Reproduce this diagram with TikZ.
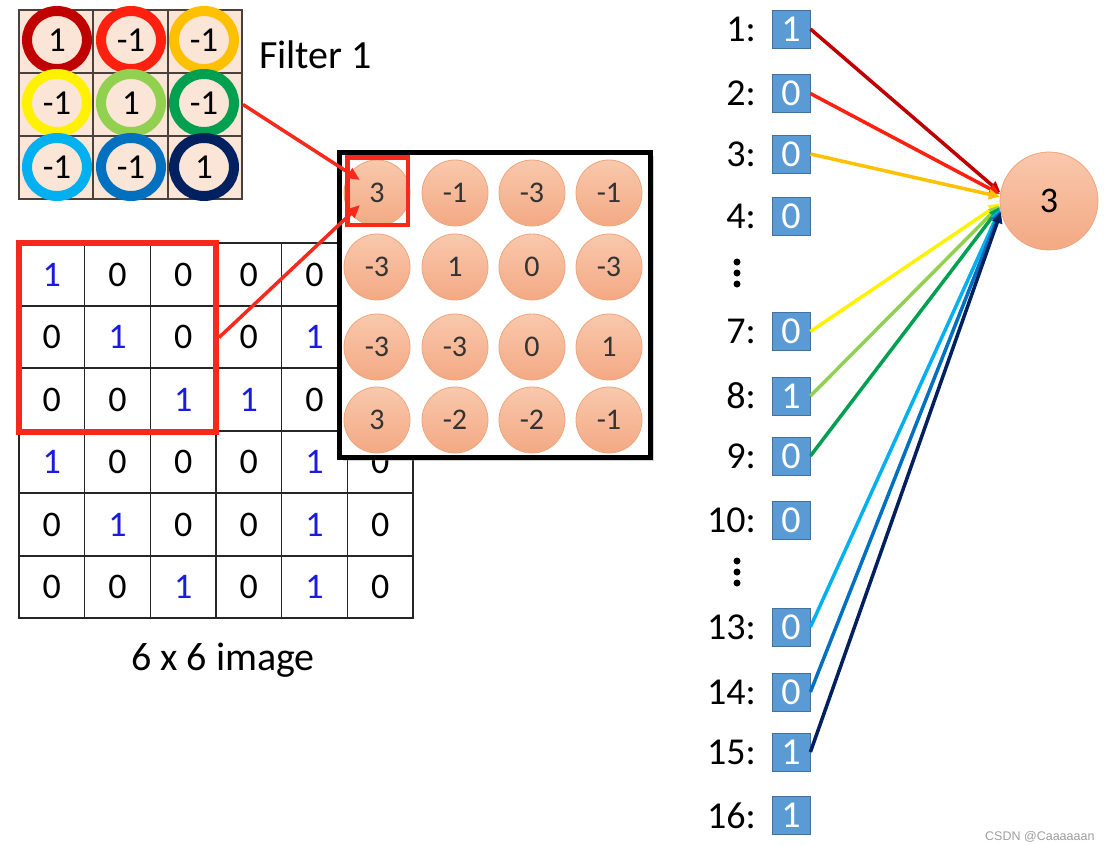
\documentclass[tikz,border=0pt]{standalone}
\usepackage{fontspec}
\setmainfont{Carlito}
\newfontfamily\markfont{Liberation Sans}
\usetikzlibrary{shapes.geometric, arrows.meta, shadows, positioning}

\definecolor{peach}{HTML}{FBE5D6}
\definecolor{fline}{HTML}{4A403C}
\definecolor{ringA}{HTML}{C00000}
\definecolor{ringB}{HTML}{FF2010}
\definecolor{ringC}{HTML}{FFC000}
\definecolor{ringD}{HTML}{FFF200}
\definecolor{ringE}{HTML}{92D050}
\definecolor{ringF}{HTML}{00A050}
\definecolor{ringG}{HTML}{00B0F0}
\definecolor{ringH}{HTML}{0070C0}
\definecolor{ringI}{HTML}{002060}
\definecolor{oneblue}{HTML}{1A1AE0}
\definecolor{winred}{HTML}{F52A1C}
\definecolor{dottop}{HTML}{F9C8AC}
\definecolor{dotbot}{HTML}{F3A984}
\definecolor{dotedge}{HTML}{EFA57C}
\definecolor{boxblue}{HTML}{5B9BD5}
\definecolor{boxedge}{HTML}{41719C}

\begin{document}
\begin{tikzpicture}[x=1pt, y=-1pt,
    ring/.style={ellipse, draw=#1, line width=10pt, minimum width=60pt, minimum height=58pt, font=\fontsize{35}{35}\selectfont},
    pix/.style={draw=black!85, line width=1.6pt, minimum width=65.7pt, minimum height=62.5pt, font=\fontsize{36}{36}\selectfont},
    hot/.style={pix, text=oneblue},
    fdot/.style={circle, minimum size=66pt, draw=dotedge, line width=0.8pt, top color=dottop, bottom color=dotbot, text=black!80, font=\fontsize{30}{30}\selectfont},
    inbox/.style={fill=boxblue, draw=boxedge, line width=0.8pt, minimum size=38pt, text=white, font=\fontsize{38}{38}\selectfont},
    idx/.style={anchor=east, font=\fontsize{38}{38}\selectfont},
    feed/.style={draw=#1, line width=3.5pt, -{Triangle[length=11pt,width=10pt]}}]
    \tikzstyle{every node}+=[inner sep=0pt]
    \useasboundingbox (0,0) rectangle (1116,844);

    % filter 1
    \node [draw=fline, fill=peach, line width=2pt, minimum width=223pt, minimum height=189pt] (filt) at (130.5,104.5) {};
    \draw [fline, line width=2pt] (93,10) -- (93,199);
    \draw [fline, line width=2pt] (168,10) -- (168,199);
    \draw [fline, line width=2pt] (19,73) -- (242,73);
    \draw [fline, line width=2pt] (19,136) -- (242,136);
    \node [ring=ringA] (f11) at (57,40) {1};
    \node [ring=ringB] (f12) at (131,40) {-1};
    \node [ring=ringC] (f13) at (204,40) {-1};
    \node [ring=ringD] (f21) at (57,103) {-1};
    \node [ring=ringE] (f22) at (131,103) {1};
    \node [ring=ringF] (f23) at (204,103) {-1};
    \node [ring=ringG] (f31) at (57,167) {-1};
    \node [ring=ringH] (f32) at (131,167) {-1};
    \node [ring=ringI] (f33) at (204,167) {1};
    \node [anchor=base west, font=\fontsize{40}{40}\selectfont] (ftitle) at (259,68) {Filter 1};

    % 6 x 6 image
    \node [hot] (i11) at (51.8,274.5) {1};
    \node [pix] (i12) at (117.5,274.5) {0};
    \node [pix] (i13) at (183.2,274.5) {0};
    \node [pix] (i14) at (248.8,274.5) {0};
    \node [pix] (i15) at (314.5,274.5) {0};
    \node [hot] (i16) at (380.2,274.5) {1};
    \node [pix] (i21) at (51.8,337) {0};
    \node [hot] (i22) at (117.5,337) {1};
    \node [pix] (i23) at (183.2,337) {0};
    \node [pix] (i24) at (248.8,337) {0};
    \node [hot] (i25) at (314.5,337) {1};
    \node [pix] (i26) at (380.2,337) {0};
    \node [pix] (i31) at (51.8,399.5) {0};
    \node [pix] (i32) at (117.5,399.5) {0};
    \node [hot] (i33) at (183.2,399.5) {1};
    \node [hot] (i34) at (248.8,399.5) {1};
    \node [pix] (i35) at (314.5,399.5) {0};
    \node [pix] (i36) at (380.2,399.5) {0};
    \node [hot] (i41) at (51.8,462) {1};
    \node [pix] (i42) at (117.5,462) {0};
    \node [pix] (i43) at (183.2,462) {0};
    \node [pix] (i44) at (248.8,462) {0};
    \node [hot] (i45) at (314.5,462) {1};
    \node [pix] (i46) at (380.2,462) {0};
    \node [pix] (i51) at (51.8,524.5) {0};
    \node [hot] (i52) at (117.5,524.5) {1};
    \node [pix] (i53) at (183.2,524.5) {0};
    \node [pix] (i54) at (248.8,524.5) {0};
    \node [hot] (i55) at (314.5,524.5) {1};
    \node [pix] (i56) at (380.2,524.5) {0};
    \node [pix] (i61) at (51.8,587) {0};
    \node [pix] (i62) at (117.5,587) {0};
    \node [hot] (i63) at (183.2,587) {1};
    \node [pix] (i64) at (248.8,587) {0};
    \node [hot] (i65) at (314.5,587) {1};
    \node [pix] (i66) at (380.2,587) {0};
    \node [draw=winred, line width=6pt, minimum width=197pt, minimum height=189pt] (win) at (117.5,337.5) {};
    \node [anchor=base, font=\fontsize{40}{40}\selectfont] (icap) at (223,670) {6 x 6 image};

    % feature map
    \node [draw=black, line width=5pt, fill=white, minimum width=311pt, minimum height=305pt,
           drop shadow={shadow xshift=3pt, shadow yshift=-3pt, opacity=0.35}] (fmap) at (495,305) {};
    \node [fdot] (c11) at (377,193) {3};
    \node [fdot] (c12) at (455,193) {-1};
    \node [fdot] (c13) at (532,193) {-3};
    \node [fdot] (c14) at (609,193) {-1};
    \node [fdot] (c21) at (377,267) {-3};
    \node [fdot] (c22) at (455,267) {1};
    \node [fdot] (c23) at (532,267) {0};
    \node [fdot] (c24) at (609,267) {-3};
    \node [fdot] (c31) at (377,347) {-3};
    \node [fdot] (c32) at (455,347) {-3};
    \node [fdot] (c33) at (532,347) {0};
    \node [fdot] (c34) at (609,347) {1};
    \node [fdot] (c41) at (377,420) {3};
    \node [fdot] (c42) at (455,420) {-2};
    \node [fdot] (c43) at (532,420) {-2};
    \node [fdot] (c44) at (609,420) {-1};
    \node [draw=winred, line width=4.5pt, minimum width=60.5pt, minimum height=67.5pt] (pick) at (377.5,191) {};
    \coordinate (t1) at (360,180);
    \coordinate (t2) at (360,205);
    \draw [feed=winred, -{Triangle[length=13pt,width=11pt]}] (filt.east) -- (t1);
    \draw [feed=winred, -{Triangle[length=13pt,width=11pt]}] (win.east) -- (t2);

    % flattened input
    \node [idx] (n1) at (756,29) {1:};
    \node [inbox] (b1) at (791,29) {1};
    \node [idx] (n2) at (756,93.5) {2:};
    \node [inbox] (b2) at (791,93.5) {0};
    \node [idx] (n3) at (756,154) {3:};
    \node [inbox] (b3) at (791,154) {0};
    \node [idx] (n4) at (756,216.5) {4:};
    \node [inbox] (b4) at (791,216.5) {0};
    \node [idx] (n7) at (756,331.5) {7:};
    \node [inbox] (b7) at (791,331.5) {0};
    \node [idx] (n8) at (756,396) {8:};
    \node [inbox] (b8) at (791,396) {1};
    \node [idx] (n9) at (756,456) {9:};
    \node [inbox] (b9) at (791,456) {0};
    \node [idx] (n10) at (756,520) {10:};
    \node [inbox] (b10) at (791,520) {0};
    \node [idx] (n13) at (756,627) {13:};
    \node [inbox] (b13) at (791,627) {0};
    \node [idx] (n14) at (756,692) {14:};
    \node [inbox] (b14) at (791,692) {0};
    \node [idx] (n15) at (756,752) {15:};
    \node [inbox] (b15) at (791,752) {1};
    \node [idx] (n16) at (756,815.5) {16:};
    \node [inbox] (b16) at (791,815.5) {1};
    \fill (737,262) circle (3.5);
    \fill (737,273) circle (3.5);
    \fill (737,284) circle (3.5);
    \fill (737,561) circle (3.5);
    \fill (737,572) circle (3.5);
    \fill (737,583) circle (3.5);

    % neuron
    \node [circle, minimum size=98pt, draw=dotedge, line width=0.8pt, top color=dottop, bottom color=dotbot,
           font=\fontsize{36}{36}\selectfont] (out) at (1049,201) {3};
    \draw [feed=ringA] (b1.east) -- (out.170);
    \draw [feed=ringB] (b2.east) -- (out.172);
    \draw [feed=ringC] (b3.east) -- (out.175);
    \draw [feed=ringD] (b7.east) -- (out.183);
    \draw [feed=ringE] (b8.east) -- (out.185);
    \draw [feed=ringF] (b9.east) -- (out.187);
    \draw [feed=ringG] (b13.east) -- (out.189);
    \draw [feed=ringH] (b14.east) -- (out.191);
    \draw [feed=ringI] (b15.east) -- (out.193);

    \node [anchor=base west, text=black!38, font=\markfont\fontsize{12.5}{12.5}\selectfont] (mark) at (985,840) {CSDN @Caaaaaan};
\end{tikzpicture}
\end{document}
